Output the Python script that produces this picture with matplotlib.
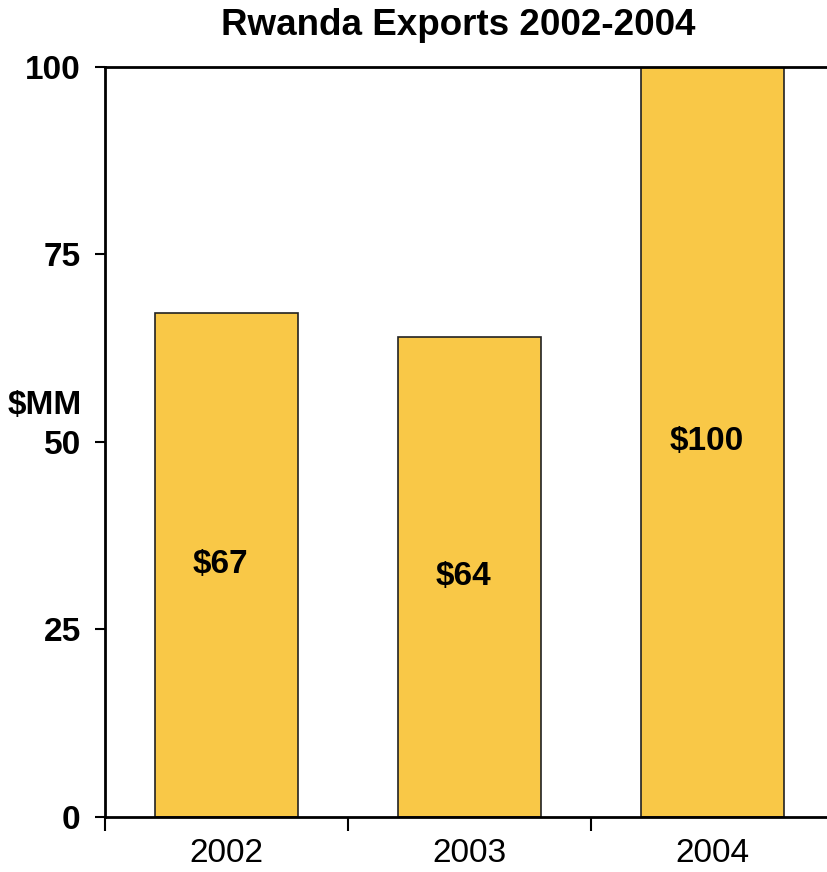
import matplotlib.pyplot as plt
import numpy as np

years = ['2002', '2003', '2004']
exports = [67.2, 64.0, 100.0]
bar_labels = ['$67', '$64', '$100']
yticks = [0, 25, 50, 75, 100]

plt.rcParams['font.family'] = ['Liberation Sans', 'DejaVu Sans']

f = plt.figure(figsize=(8.27, 8.72), dpi=100)
ax = f.add_axes([0.127, 0.0631, 0.8815, 0.8601])

x = np.arange(len(years))
ax.bar(x, exports, width=0.585, color='#F9C847', edgecolor='#222222', linewidth=1.2, zorder=2)
for xi, v, lab in zip(x, exports, bar_labels):
    ax.text(xi - 0.025, v / 2, lab, ha='center', va='center', fontsize=24, fontweight='bold')

ax.set_xlim(-0.5, 2.5)
ax.set_ylim(0, 100)
ax.set_yticks(yticks)
ax.set_yticklabels([str(t) for t in yticks], fontsize=24, fontweight='bold')
ax.set_xticks(x)
ax.set_xticklabels(years, fontsize=24)
ax.tick_params(axis='x', length=0, pad=15)
ax.set_xticks(np.arange(-0.5, 3, 1), minor=True)
ax.tick_params(axis='x', which='minor', length=10, width=1.5, direction='out')
ax.tick_params(axis='y', length=7.5, width=1.5, direction='out', pad=10)

ax.spines['right'].set_visible(False)
for s in ['left', 'bottom', 'top']:
    ax.spines[s].set_linewidth(2)
ax.text(-0.032, 0.549, '$MM', transform=ax.transAxes, ha='right', va='center', fontsize=24, fontweight='bold')

f.text(0.554, 0.971, 'Rwanda Exports 2002-2004', ha='center', va='center', fontsize=26.5, fontweight='bold')

f.savefig('out.png', dpi=100)
